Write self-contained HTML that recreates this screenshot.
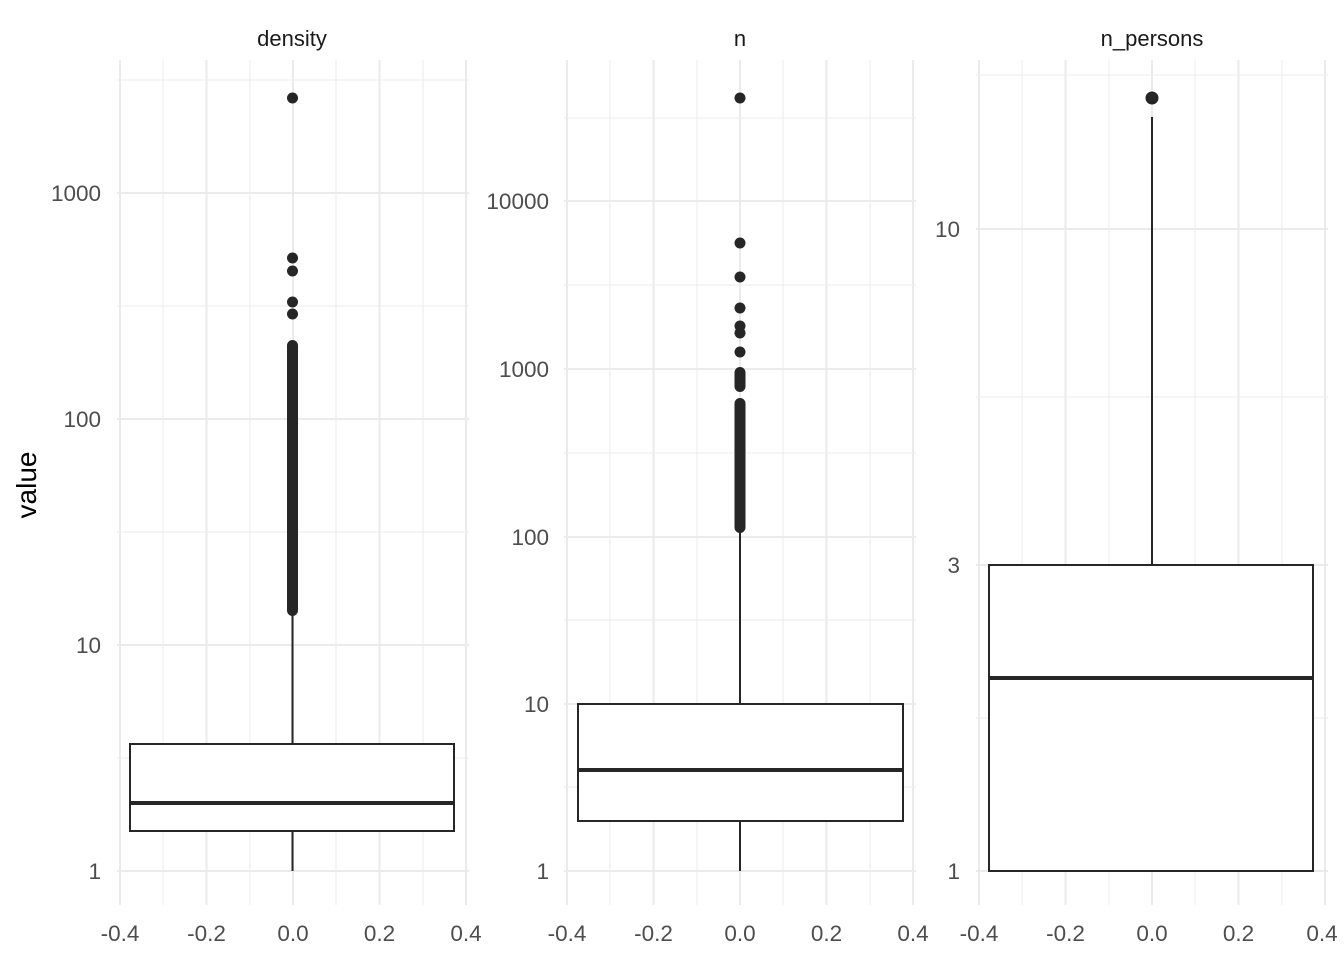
<!DOCTYPE html><html><head><style>body{margin:0;background:#fff}</style></head><body>
<svg width="1344" height="960" xmlns="http://www.w3.org/2000/svg" font-family="Liberation Sans, sans-serif">
<rect width="1344" height="960" fill="#fff"/>
<g stroke="#ebebeb">
<g stroke-width="1"><line x1="163" y1="60" x2="163" y2="905"/><line x1="250" y1="60" x2="250" y2="905"/><line x1="336" y1="60" x2="336" y2="905"/><line x1="423" y1="60" x2="423" y2="905"/>
<line x1="117" y1="758" x2="469" y2="758"/><line x1="117" y1="532" x2="469" y2="532"/><line x1="117" y1="306" x2="469" y2="306"/><line x1="117" y1="80" x2="469" y2="80"/></g>
<g stroke-width="2"><line x1="120" y1="60" x2="120" y2="905"/><line x1="206.5" y1="60" x2="206.5" y2="905"/><line x1="293" y1="60" x2="293" y2="905"/><line x1="379.5" y1="60" x2="379.5" y2="905"/><line x1="466" y1="60" x2="466" y2="905"/>
<line x1="117" y1="871" x2="469" y2="871"/><line x1="117" y1="645" x2="469" y2="645"/><line x1="117" y1="419" x2="469" y2="419"/><line x1="117" y1="193" x2="469" y2="193"/></g>
<g stroke-width="1"><line x1="610" y1="60" x2="610" y2="905"/><line x1="697" y1="60" x2="697" y2="905"/><line x1="783" y1="60" x2="783" y2="905"/><line x1="870" y1="60" x2="870" y2="905"/>
<line x1="564" y1="787" x2="916" y2="787"/><line x1="564" y1="620" x2="916" y2="620"/><line x1="564" y1="453" x2="916" y2="453"/><line x1="564" y1="285" x2="916" y2="285"/><line x1="564" y1="118" x2="916" y2="118"/></g>
<g stroke-width="2"><line x1="567" y1="60" x2="567" y2="905"/><line x1="653.5" y1="60" x2="653.5" y2="905"/><line x1="740" y1="60" x2="740" y2="905"/><line x1="826.5" y1="60" x2="826.5" y2="905"/><line x1="913" y1="60" x2="913" y2="905"/>
<line x1="564" y1="871" x2="916" y2="871"/><line x1="564" y1="704" x2="916" y2="704"/><line x1="564" y1="537" x2="916" y2="537"/><line x1="564" y1="369" x2="916" y2="369"/><line x1="564" y1="201" x2="916" y2="201"/></g>
<g stroke-width="1"><line x1="1022" y1="60" x2="1022" y2="905"/><line x1="1109" y1="60" x2="1109" y2="905"/><line x1="1195" y1="60" x2="1195" y2="905"/><line x1="1282" y1="60" x2="1282" y2="905"/>
<line x1="976" y1="718" x2="1328" y2="718"/><line x1="976" y1="397" x2="1328" y2="397"/><line x1="976" y1="75" x2="1328" y2="75"/></g>
<g stroke-width="2"><line x1="979" y1="60" x2="979" y2="905"/><line x1="1065.5" y1="60" x2="1065.5" y2="905"/><line x1="1152" y1="60" x2="1152" y2="905"/><line x1="1238.5" y1="60" x2="1238.5" y2="905"/><line x1="1325" y1="60" x2="1325" y2="905"/>
<line x1="976" y1="871" x2="1328" y2="871"/><line x1="976" y1="565" x2="1328" y2="565"/><line x1="976" y1="229" x2="1328" y2="229"/></g>
</g>
<g stroke="#262626" fill="none" stroke-width="2">
<line x1="292.5" y1="871" x2="292.5" y2="744"/><line x1="292.5" y1="744" x2="292.5" y2="612"/>
<rect x="130" y="744" width="324" height="87" fill="#fff"/><line x1="130" y1="803" x2="454" y2="803" stroke-width="4"/>
<line x1="740" y1="871" x2="740" y2="821"/><line x1="740" y1="704" x2="740" y2="528"/>
<rect x="578" y="704" width="325" height="117" fill="#fff"/><line x1="578" y1="770" x2="903" y2="770" stroke-width="4"/>
<line x1="1152" y1="565" x2="1152" y2="117"/>
<rect x="989" y="565" width="324" height="306" fill="#fff"/><line x1="989" y1="678" x2="1313" y2="678" stroke-width="4"/>
</g>
<g fill="#262626">
<circle cx="292.5" cy="98" r="5.5"/><circle cx="292.5" cy="258" r="5.5"/><circle cx="292.5" cy="271" r="5.5"/><circle cx="292.5" cy="302" r="5.5"/><circle cx="292.5" cy="314" r="5.5"/>
<rect x="287" y="340" width="11" height="276" rx="5.5"/>
<circle cx="740" cy="98" r="5.5"/><circle cx="740" cy="243" r="5.5"/><circle cx="740" cy="277" r="5.5"/><circle cx="740" cy="308" r="5.5"/><circle cx="740" cy="326" r="5.5"/><circle cx="740" cy="333" r="5.5"/><circle cx="740" cy="352" r="5.5"/>
<rect x="734.5" y="367" width="11" height="25" rx="5.5"/>
<rect x="734.5" y="398" width="11" height="135" rx="5.5"/>
<circle cx="1152" cy="98" r="6.5"/>
</g>
<g font-size="22" fill="#1a1a1a" text-anchor="middle">
<text x="292" y="46">density</text><text x="740" y="46">n</text><text x="1152" y="46">n_persons</text>
</g>
<g font-size="22.5" fill="#4d4d4d" text-anchor="end">
<text x="101" y="879">1</text><text x="101" y="653">10</text><text x="101" y="427">100</text><text x="101" y="201">1000</text>
<text x="549" y="879">1</text><text x="549" y="712">10</text><text x="549" y="545">100</text><text x="549" y="377">1000</text><text x="549" y="209">10000</text>
<text x="960" y="879">1</text><text x="960" y="573">3</text><text x="960" y="237">10</text>
</g>
<g font-size="22.5" fill="#4d4d4d" text-anchor="middle">
<text x="120" y="941">-0.4</text><text x="206.5" y="941">-0.2</text><text x="293" y="941">0.0</text><text x="379.5" y="941">0.2</text><text x="466" y="941">0.4</text>
<text x="567" y="941">-0.4</text><text x="653.5" y="941">-0.2</text><text x="740" y="941">0.0</text><text x="826.5" y="941">0.2</text><text x="913" y="941">0.4</text>
<text x="979" y="941">-0.4</text><text x="1065.5" y="941">-0.2</text><text x="1152" y="941">0.0</text><text x="1238.5" y="941">0.2</text><text x="1322" y="941">0.4</text>
</g>
<text x="36" y="485" font-size="28" fill="#000" text-anchor="middle" transform="rotate(-90 36 485)">value</text>
</svg>
</body></html>
